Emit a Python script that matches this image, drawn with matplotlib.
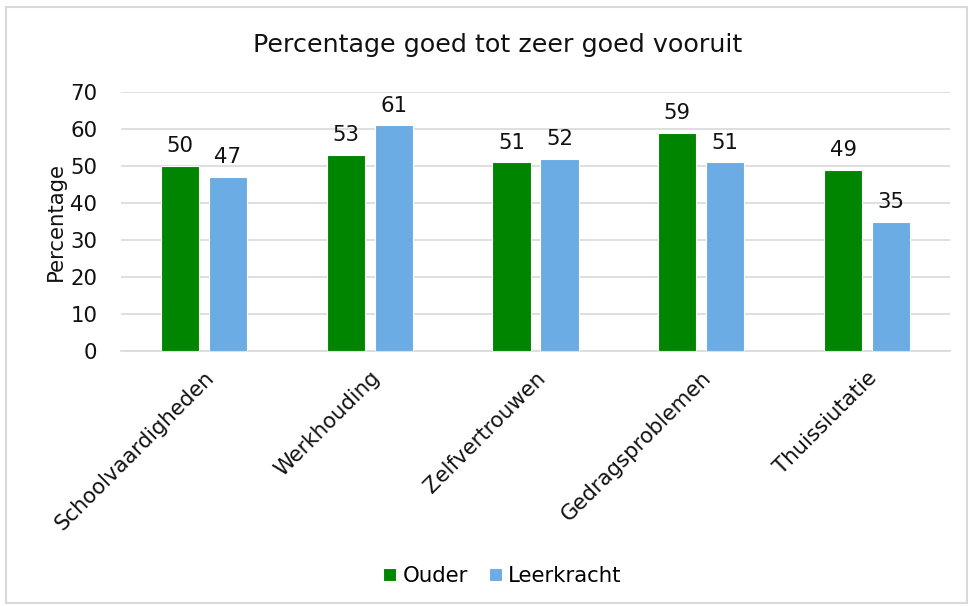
import numpy as np
import matplotlib.pyplot as plt
from matplotlib.patches import Rectangle

categories = ["Schoolvaardigheden", "Werkhouding", "Zelfvertrouwen",
              "Gedragsproblemen", "Thuissiutatie"]
ouder = [50, 53, 51, 59, 49]
leerkracht = [47, 61, 52, 51, 35]

green = "#008500"
blue = "#6AACE3"
fs = 15.3

fig = plt.figure(figsize=(9.76, 6.06), dpi=100)
fig.patches.append(Rectangle((0.006, 0.005), 0.985, 0.984, transform=fig.transFigure,
                             fill=False, edgecolor="#d9d9d9", linewidth=1.5))

# axes from x=121..950 px, y=92..351 px
ax = fig.add_axes([121 / 976, 1 - 351 / 606, 829 / 976, 259 / 606])

x = np.arange(len(categories))
w = 0.23
off = 0.145
b1 = ax.bar(x - off, ouder, w, color=green, edgecolor="white", linewidth=0.8, label="Ouder", zorder=3)
b2 = ax.bar(x + off, leerkracht, w, color=blue, edgecolor="white", linewidth=0.8, label="Leerkracht", zorder=3)
ax.bar_label(b1, padding=7, fontsize=fs, color="#111111")
ax.bar_label(b2, padding=7, fontsize=fs, color="#111111")

ax.set_xlim(-0.5, 4.5)
ax.set_ylim(0, 70)
ax.set_yticks(range(0, 71, 10))
ax.grid(axis="y", color="#d9d9d9", linewidth=1.2, zorder=0)
for s in ["top", "right", "left"]:
    ax.spines[s].set_visible(False)
ax.spines["bottom"].set_color("#d9d9d9")
ax.spines["bottom"].set_linewidth(1.2)
ax.tick_params(axis="both", length=0, labelsize=fs, colors="#111111")
ax.tick_params(axis="y", pad=17)
ax.set_xticks(x)
ax.set_xticklabels(categories, rotation=45, ha="right", rotation_mode="anchor")
ax.tick_params(axis="x", pad=12)
ax.set_ylabel("Percentage", fontsize=fs, color="#111111")
ax.yaxis.set_label_coords(-0.067, 0.5)

fig.text(0.51, 1 - 45 / 606, "Percentage goed tot zeer goed vooruit", ha="center", va="center",
         fontsize=18.3, color="#111111")

fig.legend(loc="center", bbox_to_anchor=(0.515, 1 - 576 / 606), ncol=2, frameon=False,
           fontsize=fs, handlelength=0.6, handleheight=0.6, handletextpad=0.3, columnspacing=1.0)

fig.savefig("out.png", dpi=100)
